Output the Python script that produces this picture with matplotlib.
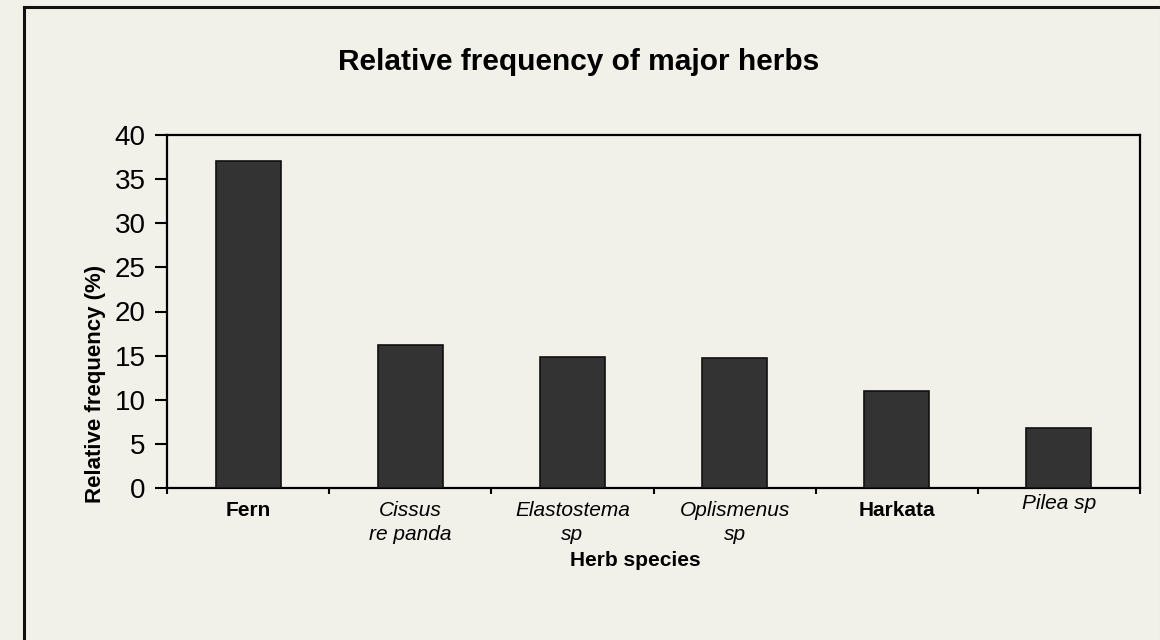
import matplotlib
matplotlib.use("Agg")
import matplotlib.pyplot as plt
from matplotlib.lines import Line2D
from matplotlib.transforms import ScaledTranslation
import numpy as np

categories = ["Fern", "Cissus\nre panda", "Elastostema\nsp", "Oplismenus\nsp", "Harkata", "Pilea sp"]
label_styles = ["normal", "italic", "italic", "italic", "normal", "italic"]
label_weights = ["bold", "normal", "normal", "normal", "bold", "normal"]
values = [37.0, 16.2, 14.8, 14.7, 11.0, 6.8]
yticks = [0, 5, 10, 15, 20, 25, 30, 35, 40]

BG = "#f2f1e9"
plt.rcParams["font.family"] = ["Liberation Sans", "DejaVu Sans"]

fig = plt.figure(figsize=(11.6, 6.4), dpi=100, facecolor=BG)
W, H = 1160, 640
ax = fig.add_axes([167 / W, 1 - 488 / H, (1140 - 167) / W, (488 - 135) / H])
ax.set_facecolor(BG)

x = np.arange(len(categories))
ax.bar(x, values, width=0.4, color="#333333", edgecolor="#111111", linewidth=1.2, zorder=3)

ax.set_xlim(-0.5, len(categories) - 0.5)
ax.set_ylim(0, 40)
ax.set_yticks(yticks)
ax.set_yticklabels([str(v) for v in yticks], fontsize=20)
ax.tick_params(axis="y", direction="out", length=8.5, width=1.5, pad=7, colors="black")

ax.set_xticks(x)
ax.set_xticklabels(categories, fontsize=15, linespacing=1.4, va="top")
ax.tick_params(axis="x", which="major", length=0, pad=9)
for lab, st, wt in zip(ax.get_xticklabels(), label_styles, label_weights):
    lab.set_fontstyle(st)
    lab.set_fontweight(wt)
ax.get_xticklabels()[-1].set_transform(
    ax.get_xticklabels()[-1].get_transform() + ScaledTranslation(0, 5 / 72, fig.dpi_scale_trans))

ax.set_xticks(np.arange(-0.5, len(categories)), minor=True)
ax.tick_params(axis="x", which="minor", direction="out", length=4.5, width=1.5)

for s in ax.spines.values():
    s.set_linewidth(1.6)
    s.set_color("black")

fig.text(635 / W, 1 - 560 / H, "Herb species", ha="center", va="center", fontsize=15, fontweight="bold")
fig.text(95 / W, 1 - 384 / H, "Relative frequency (%)", ha="center", va="center",
         rotation=90, fontsize=16, fontweight="bold")
fig.text(579 / W, 1 - 62 / H, "Relative frequency of major herbs", ha="center", va="center",
         fontsize=21.5, fontweight="bold")

# outer border (top and left visible, right and bottom cropped)
fig.add_artist(Line2D([24 / W, 24 / W], [0, 1 - 7 / H], color="#111111", lw=2.2, transform=fig.transFigure))
fig.add_artist(Line2D([24 / W, 1], [1 - 7 / H, 1 - 7 / H], color="#111111", lw=2.2, transform=fig.transFigure))
fig.add_artist(Line2D([1159.5 / W, 1159.5 / W], [0, 1], color="#bbbbbb", lw=0.8, transform=fig.transFigure))

fig.savefig("out.png", dpi=100, facecolor=BG)
